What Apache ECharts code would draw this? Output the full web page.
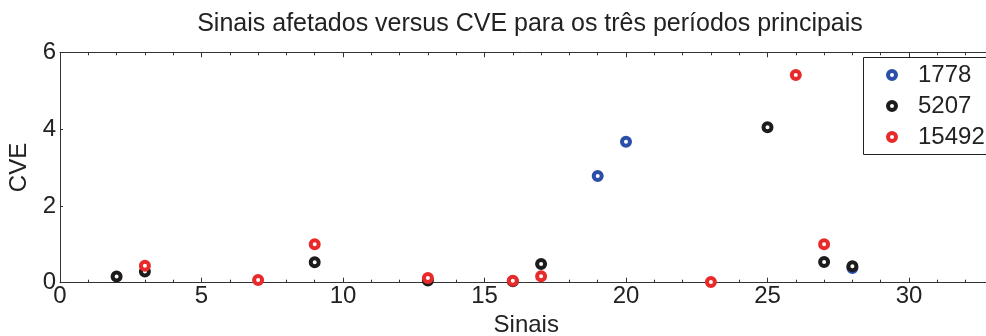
<!DOCTYPE html>
<html>
<head>
<meta charset="utf-8">
<style>
  html, body { margin: 0; padding: 0; background: #fff; }
  #chart { width: 986px; height: 336px; }
</style>
<script src="https://cdn.jsdelivr.net/npm/echarts@6/dist/echarts.min.js"></script>
</head>
<body>
<div id="chart"></div>
<script>
// Affected signals (x) and CVE (y) for the three main periods
const periodNames = ['1778', '5207', '15492'];

const sinais1778 = [19, 20, 28];
const cve1778    = [2.78, 3.67, 0.38];

const sinais5207 = [2, 3, 9, 13, 16, 17, 25, 27, 28];
const cve5207    = [0.16, 0.29, 0.53, 0.06, 0.04, 0.49, 4.05, 0.54, 0.43];

const sinais15492 = [3, 7, 9, 13, 16, 17, 23, 26, 27];
const cve15492    = [0.44, 0.07, 1.0, 0.12, 0.05, 0.17, 0.02, 5.41, 1.0];

const periodColors = ['#2b4fa8', '#1c1c1c', '#e82a2a'];

const xTicks = [0, 5, 10, 15, 20, 25, 30, 35];
const yTicks = [0, 2, 4, 6];

function pairs(xs, ys) { return xs.map((x, i) => [x, ys[i]]); }

const seriesData = [
  pairs(sinais1778, cve1778),
  pairs(sinais5207, cve5207),
  pairs(sinais15492, cve15492)
];

const FONT = 'Liberation Sans, Arial, sans-serif';
const TXT = '#222';

const chart = echarts.init(document.getElementById('chart'), null, { renderer: 'canvas' });

const xMin = xTicks[0], xMax = xTicks[xTicks.length - 1];
const xStep = xTicks[1] - xTicks[0];
const yMin = yTicks[0], yMax = yTicks[yTicks.length - 1];
const yStep = yTicks[1] - yTicks[0];

const axisLine = { show: true, onZero: false, lineStyle: { color: '#333', width: 1 } };

chart.setOption({
  animation: false,
  backgroundColor: '#fff',
  title: {
    text: 'Sinais afetados versus CVE para os três períodos principais',
    left: 525,
    top: 7,
    textAlign: 'center',
    textStyle: { fontFamily: FONT, fontSize: 25, fontWeight: 'normal', color: TXT }
  },
  // legend frame runs past the right edge of the figure
  graphic: [{
    type: 'rect',
    z: 10,
    silent: true,
    shape: { x: 863.5, y: 57.5, width: 200, height: 97 },
    style: { fill: '#fff', stroke: '#222', lineWidth: 1 }
  }],
  legend: {
    orient: 'vertical',
    left: 863,
    top: 57,
    z: 20,
    padding: [5, 20, 4, 23],
    itemGap: 5,
    itemWidth: 38,
    itemHeight: 8,
    itemStyle: { color: '#fff', borderWidth: 4 },
    borderWidth: 0,
    backgroundColor: 'transparent',
    data: periodNames,
    textStyle: { fontFamily: FONT, fontSize: 24, color: TXT, lineHeight: 26, padding: [0, 0, 0, 2] }
  },
  grid: {
    left: 60, top: 52.3, width: 990.5, height: 230.4,
    containLabel: false,
    outerBoundsMode: 'none'
  },
  xAxis: [
    {
      type: 'value',
      min: xMin, max: xMax, interval: xStep,
      position: 'bottom',
      name: 'Sinais',
      nameLocation: 'middle',
      nameGap: 28,
      nameTextStyle: { fontFamily: FONT, fontSize: 24, color: TXT, padding: [0, 58, 0, 0] },
      axisLine: axisLine,
      axisTick: { show: true, inside: true, length: 5, lineStyle: { color: '#333' } },
      minorTick: { show: true, splitNumber: 5, length: 3, lineStyle: { color: '#333' } },
      axisLabel: { fontFamily: FONT, fontSize: 24, color: TXT, margin: 2 },
      splitLine: { show: false }
    },
    {
      type: 'value',
      min: xMin, max: xMax, interval: xStep,
      position: 'top',
      axisLine: axisLine,
      axisTick: { show: true, inside: true, length: 5, lineStyle: { color: '#333' } },
      minorTick: { show: true, splitNumber: 5, length: 3, lineStyle: { color: '#333' } },
      axisLabel: { show: false },
      splitLine: { show: false }
    }
  ],
  yAxis: {
    type: 'value',
    min: yMin, max: yMax, interval: yStep,
    name: 'CVE',
    nameLocation: 'middle',
    nameGap: 21,
    nameTextStyle: { fontFamily: FONT, fontSize: 24, color: TXT },
    axisLine: axisLine,
    axisTick: { show: true, inside: true, length: 3, lineStyle: { color: '#333' } },
    axisLabel: { fontFamily: FONT, fontSize: 24, color: TXT, margin: 4 },
    splitLine: { show: false }
  },
  series: periodNames.map((name, i) => ({
    name: name,
    type: 'scatter',
    xAxisIndex: 0,
    symbol: 'circle',
    symbolSize: 8,
    itemStyle: { color: '#fff', borderColor: periodColors[i], borderWidth: 4, opacity: 1 },
    z: 2 + i,
    data: seriesData[i]
  }))
});
</script>
</body>
</html>
